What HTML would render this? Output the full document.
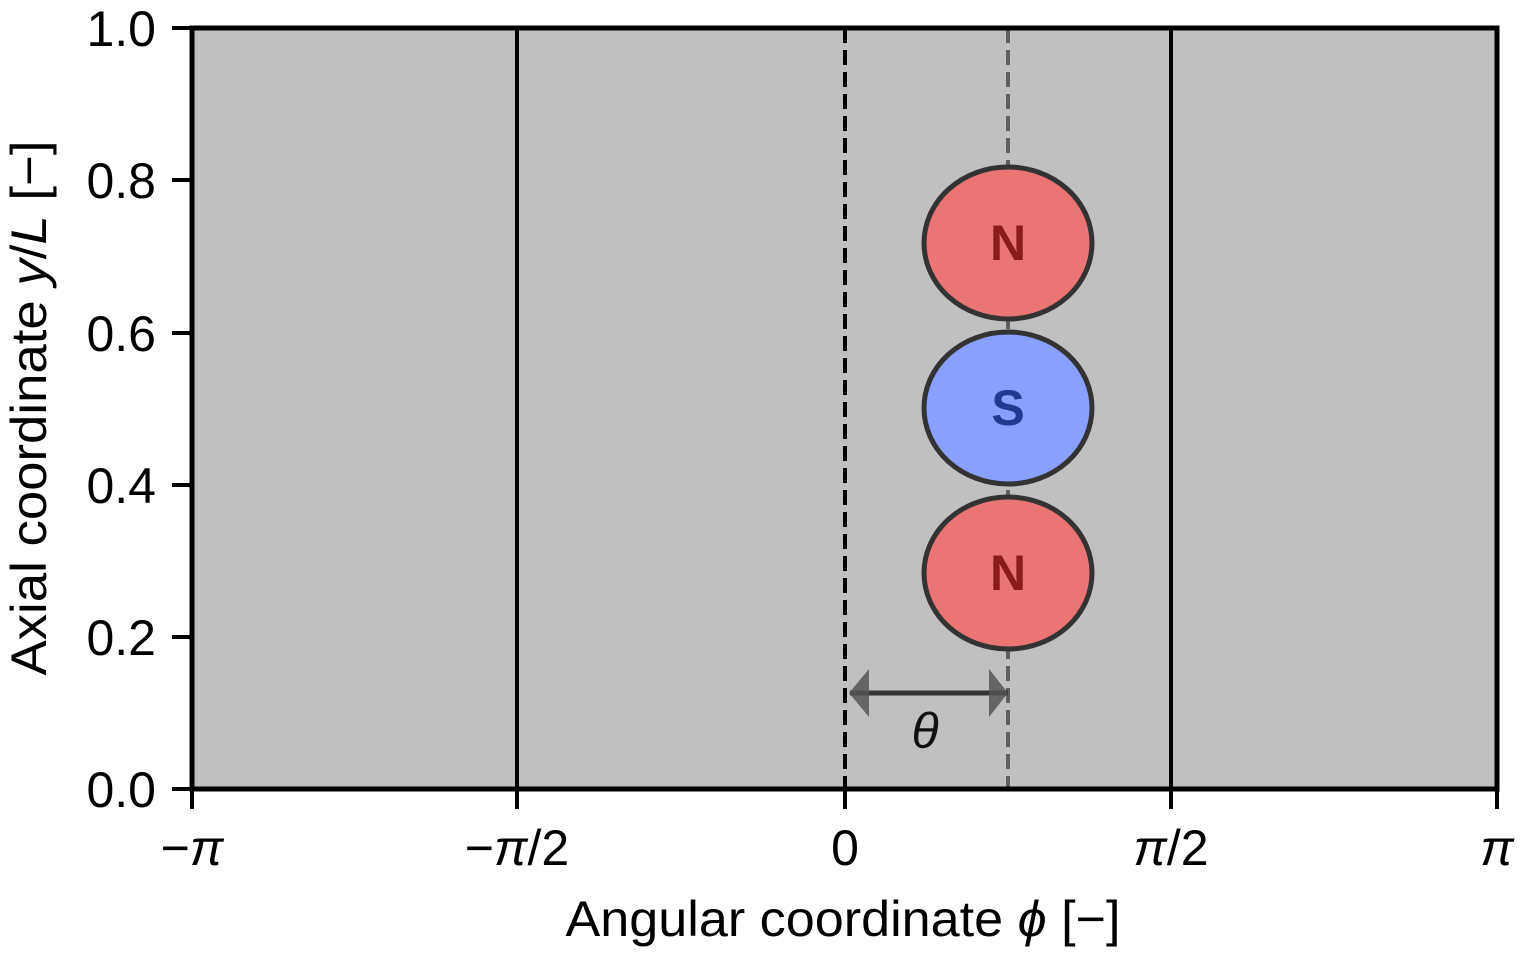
<!DOCTYPE html>
<html><head><style>html,body{margin:0;padding:0;background:#fff}</style></head>
<body>
<svg width="1525" height="959" xmlns="http://www.w3.org/2000/svg" font-family="'Liberation Sans', 'DejaVu Sans', sans-serif">
<rect x="192" y="28" width="1305" height="761" fill="#c0c0c0"/>
<line x1="517" y1="28" x2="517" y2="789" stroke="#000" stroke-width="4"/>
<line x1="1171" y1="28" x2="1171" y2="789" stroke="#000" stroke-width="4"/>
<line x1="845" y1="28" x2="845" y2="789" stroke="#000" stroke-width="4" stroke-dasharray="15,7"/>
<line x1="1008" y1="28" x2="1008" y2="789" stroke="#606060" stroke-width="4" stroke-dasharray="15,7"/>
<g stroke="#333" stroke-width="5">
<ellipse cx="1008" cy="243" rx="84" ry="76" fill="#eb7474"/>
<ellipse cx="1008" cy="408" rx="84" ry="76" fill="#88a0ff"/>
<ellipse cx="1008" cy="573" rx="84" ry="76" fill="#eb7474"/>
</g>
<g font-size="50" font-weight="bold" text-anchor="middle">
<text x="1008" y="260" fill="#8b1a1a">N</text>
<text x="1008" y="425" fill="#1f3a93">S</text>
<text x="1008" y="590" fill="#8b1a1a">N</text>
</g>
<line x1="850" y1="693" x2="1008" y2="693" stroke="#333" stroke-width="5"/>
<polygon points="849,693 869,669 869,717" fill="#555" opacity="0.85"/>
<polygon points="1008,693 989,669 989,717" fill="#555" opacity="0.85"/>
<text x="925" y="748" font-size="50" font-style="italic" text-anchor="middle" fill="#111">θ</text>
<rect x="192" y="28" width="1305" height="761" fill="none" stroke="#000" stroke-width="5"/>
<g stroke="#000" stroke-width="4">
<line x1="172" y1="28" x2="192" y2="28"/><line x1="172" y1="180" x2="192" y2="180"/>
<line x1="172" y1="333" x2="192" y2="333"/><line x1="172" y1="485" x2="192" y2="485"/>
<line x1="172" y1="637" x2="192" y2="637"/><line x1="172" y1="789" x2="192" y2="789"/>
<line x1="192" y1="789" x2="192" y2="809"/><line x1="517" y1="789" x2="517" y2="809"/>
<line x1="845" y1="789" x2="845" y2="809"/><line x1="1171" y1="789" x2="1171" y2="809"/>
<line x1="1497" y1="789" x2="1497" y2="809"/>
</g>
<g font-size="50" text-anchor="end" fill="#000">
<text x="156" y="46">1.0</text><text x="156" y="198">0.8</text>
<text x="156" y="351">0.6</text><text x="156" y="503">0.4</text>
<text x="156" y="655">0.2</text><text x="156" y="807">0.0</text>
</g>
<g font-size="50" text-anchor="middle" fill="#000">
<text x="192" y="865">−<tspan font-style="italic">π</tspan></text>
<text x="517" y="865">−<tspan font-style="italic">π</tspan>/2</text>
<text x="845" y="865">0</text>
<text x="1171" y="865"><tspan font-style="italic">π</tspan>/2</text>
<text x="1497" y="865"><tspan font-style="italic">π</tspan></text>
<text x="843" y="936" textLength="555" lengthAdjust="spacingAndGlyphs">Angular coordinate <tspan font-style="italic">ϕ</tspan> [−]</text>
<text transform="translate(46,408) rotate(-90)" textLength="535" lengthAdjust="spacingAndGlyphs">Axial coordinate <tspan font-style="italic">y</tspan>/<tspan font-style="italic">L</tspan> [−]</text>
</g>
</svg>
</body></html>
